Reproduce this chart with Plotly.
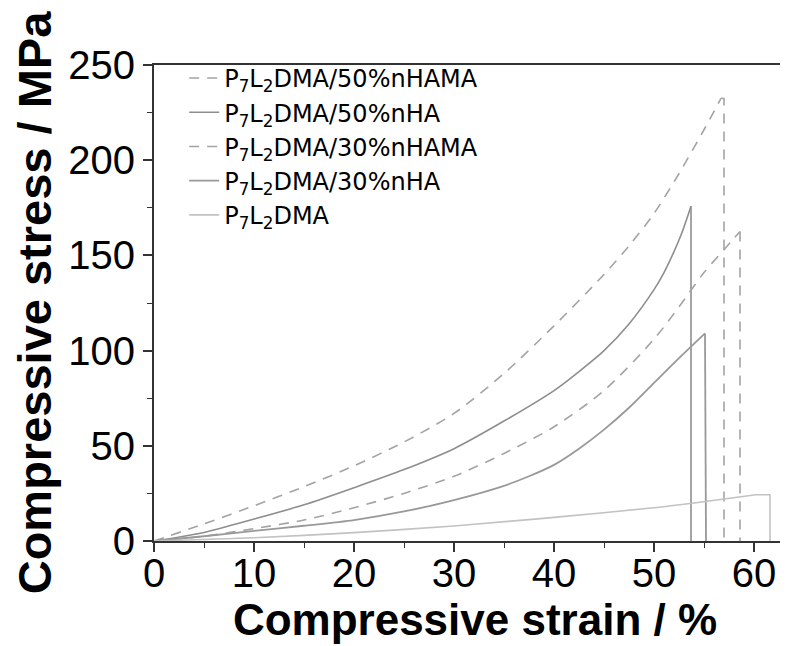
import plotly.graph_objects as go

# ---- data (strain %, stress MPa) ----
names = [
    "P<sub>7</sub>L<sub>2</sub>DMA/50%nHAMA",
    "P<sub>7</sub>L<sub>2</sub>DMA/50%nHA",
    "P<sub>7</sub>L<sub>2</sub>DMA/30%nHAMA",
    "P<sub>7</sub>L<sub>2</sub>DMA/30%nHA",
    "P<sub>7</sub>L<sub>2</sub>DMA",
]

strain_50nHAMA = [0, 5, 10, 15, 20, 25, 30, 35, 40, 45, 47.5, 50, 52.5, 55, 56.7, 57.0, 57.0]
stress_50nHAMA = [0, 9, 18.5, 28.5, 39.5, 52, 67, 88, 113, 140, 155, 172, 193, 216, 232.5, 232.4, 0]

strain_50nHA = [0, 5, 10, 15, 20, 25, 30, 35, 40, 42.5, 45, 47.5, 50, 51, 52, 52.8, 53.7, 53.7]
stress_50nHA = [0, 4.5, 11.5, 19, 28, 37.5, 48.5, 63, 79, 89, 100, 114, 132, 141, 152, 162, 175.8, 0]

strain_30nHAMA = [0, 5, 10, 15, 20, 25, 30, 35, 40, 45, 50, 52.5, 55, 57, 58.6, 58.6]
stress_30nHAMA = [0, 2.5, 6.5, 11, 17.5, 25, 34, 46, 60, 79, 106, 123, 141, 153, 162.6, 0]

strain_30nHA = [0, 5, 10, 15, 20, 25, 30, 35, 37.5, 40, 42.5, 45, 47.5, 50, 52.5, 55.1, 55.2]
stress_30nHA = [0, 2.5, 5.3, 8, 11, 15.5, 21.5, 29, 34, 40, 48.5, 58.5, 70, 83, 96, 109, 0]

strain_neat = [0, 10, 20, 30, 35.4, 40, 50, 54, 60.2, 61.6, 61.6]
stress_neat = [0, 1.7, 4.4, 7.9, 10.3, 12.4, 17.5, 20, 24.3, 24.3, 0]

x_ticks = [0, 10, 20, 30, 40, 50, 60]
y_ticks = [0, 50, 100, 150, 200, 250]

series = [
    (strain_50nHAMA, stress_50nHAMA, "#a3a3a3", "10px,8px", 1.6),
    (strain_50nHA, stress_50nHA, "#8e8e8e", "solid", 1.6),
    (strain_30nHAMA, stress_30nHAMA, "#a3a3a3", "10px,8px", 1.6),
    (strain_30nHA, stress_30nHA, "#999999", "solid", 1.8),
    (strain_neat, stress_neat, "#c2c2c2", "solid", 1.6),
]

fig = go.Figure()
for i, (name, (xs, ys, col, dash, w)) in enumerate(zip(names, series)):
    ipk = ys.index(max(ys))
    # loading curve up to failure (smooth)
    fig.add_trace(go.Scatter(
        x=xs[:ipk + 1], y=ys[:ipk + 1], mode="lines", name=name,
        legendgroup=f"g{i}",
        line=dict(color=col, width=w, dash=dash, shape="spline", smoothing=0.8),
    ))
    # failure drop
    fig.add_trace(go.Scatter(
        x=xs[ipk:], y=ys[ipk:], mode="lines", name=name,
        legendgroup=f"g{i}", showlegend=False,
        line=dict(color=col, width=w, dash=dash),
    ))

font_main = "Liberation Sans, Arial, sans-serif"

fig.update_layout(
    width=788, height=646,
    margin=dict(l=146, r=0, t=57, b=113),
    paper_bgcolor="white", plot_bgcolor="white",
    font=dict(family=font_main, color="black"),
    showlegend=True,
    legend=dict(
        x=0.047, y=1.019, xanchor="left", yanchor="top",
        bgcolor="rgba(0,0,0,0)", borderwidth=0,
        font=dict(family="DejaVu Sans, sans-serif", size=24, color="black"),
        tracegroupgap=0,
    ),
    xaxis=dict(
        range=[0, 64.2], tickvals=x_ticks, ticktext=[str(v) for v in x_ticks],
        showgrid=False, zeroline=False,
        showline=True, linecolor="#333333", linewidth=2, mirror=True,
        ticks="outside", ticklen=9, tickwidth=1.5, tickcolor="#333333",
        minor=dict(dtick=5, ticks="outside", ticklen=5, tickwidth=1.2, tickcolor="#333333"),
        tickfont=dict(size=40, family=font_main, color="black"),
        ticklabelstandoff=-13,
        title=dict(text="<b>Compressive strain / %</b>", font=dict(size=44, family=font_main, color="black"), standoff=3),
    ),
    yaxis=dict(
        range=[0, 250], tickvals=y_ticks, ticktext=[str(v) for v in y_ticks],
        showgrid=False, zeroline=False,
        showline=True, linecolor="#333333", linewidth=2, mirror=False,
        ticks="outside", ticklen=9, tickwidth=1.5, tickcolor="#333333",
        minor=dict(dtick=25, ticks="outside", ticklen=5, tickwidth=1.2, tickcolor="#333333"),
        tickfont=dict(size=40, family=font_main, color="black"),
        title=dict(text="<b>Compressive stress / MPa</b>", font=dict(size=47, family=font_main, color="black"), standoff=8),
    ),
)

fig.write_html("out.html")
